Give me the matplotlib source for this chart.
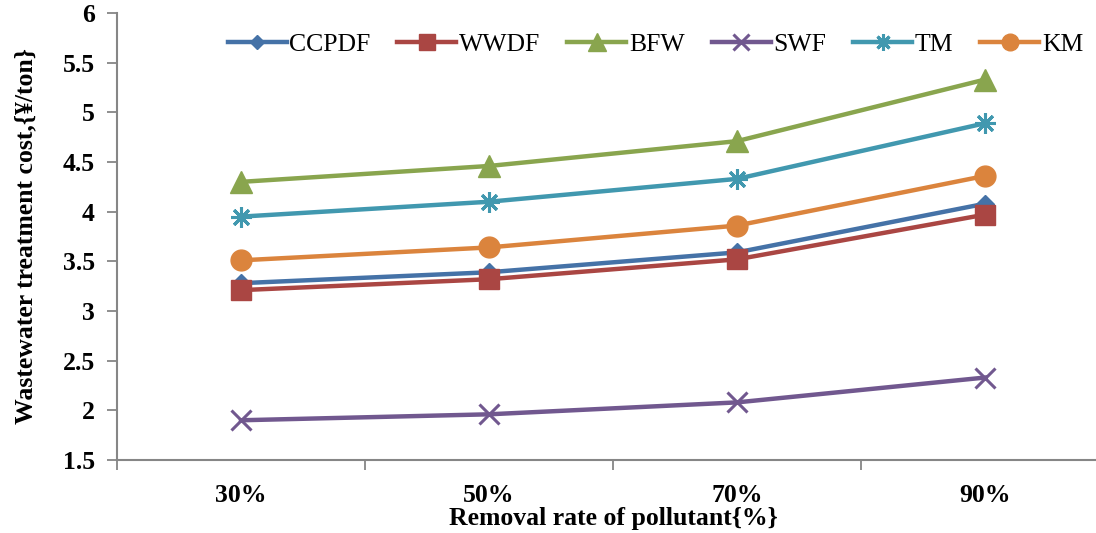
import matplotlib
matplotlib.use("Agg")
import matplotlib.pyplot as plt

categories = ["30%", "50%", "70%", "90%"]
series_names = ["CCPDF", "WWDF", "BFW", "SWF", "TM", "KM"]
ccpdf = [3.28, 3.39, 3.59, 4.08]
wwdf = [3.21, 3.32, 3.52, 3.97]
bfw = [4.30, 4.46, 4.71, 5.33]
swf = [1.90, 1.96, 2.08, 2.33]
tm = [3.95, 4.10, 4.33, 4.89]
km = [3.51, 3.64, 3.86, 4.36]
y_ticks = [1.5, 2, 2.5, 3, 3.5, 4, 4.5, 5, 5.5, 6]
y_tick_labels = ["1.5", "2", "2.5", "3", "3.5", "4", "4.5", "5", "5.5", "6"]

colors = ["#4572A7", "#AA4643", "#89A54E", "#71588F", "#4198AF", "#DB843D"]
markers = ["D", "s", "^", "x", (8, 2, 0), "o"]
msizes = [9, 15, 16, 14, 15, 15]
values = [ccpdf, wwdf, bfw, swf, tm, km]

plt.rcParams["font.family"] = ["Liberation Serif", "DejaVu Serif"]

fig = plt.figure(figsize=(10.96, 5.33), dpi=100)
ax = fig.add_axes([117 / 1096, 73 / 533, (1109 - 117) / 1096, 447 / 533])

x = list(range(len(categories)))
handles = []
for name, vals, c, m, ms in zip(series_names, values, colors, markers, msizes):
    mew = 2.2 if m in ("x",) or isinstance(m, tuple) else 1
    h, = ax.plot(x, vals, color=c, lw=3.2, marker=m, markersize=ms,
                 markeredgecolor=c, markerfacecolor=c, markeredgewidth=mew,
                 label=name, clip_on=False)
    handles.append(h)

ax.set_xlim(-0.5, 3.5)
ax.set_ylim(1.5, 6)
ax.set_yticks(y_ticks)
ax.set_yticklabels(y_tick_labels, fontsize=18.5, fontweight="bold")
ax.set_xticks(x)
ax.set_xticklabels(categories, fontsize=18.5, fontweight="bold")
ax.set_xticks([-0.5, 0.5, 1.5, 2.5], minor=True)
ax.tick_params(axis="x", which="major", length=0, pad=17)
ax.tick_params(axis="x", which="minor", length=7, color="#868686", width=1.3)
ax.tick_params(axis="y", which="major", length=7, color="#868686", width=1.3, pad=9)

for s in ["top", "right"]:
    ax.spines[s].set_visible(False)
for s in ["left", "bottom"]:
    ax.spines[s].set_color("#868686")
    ax.spines[s].set_linewidth(1.5)

ax.set_xlabel("Removal rate of pollutant{%}", fontsize=18.5, fontweight="bold", labelpad=0)
ax.set_ylabel("Wastewater treatment cost,{¥/ton}", fontsize=18.5, fontweight="bold", labelpad=18)

leg = fig.legend(handles=handles, loc="center right", bbox_to_anchor=(1.0, 1 - 45 / 533),
                 ncol=6, frameon=False, fontsize=18.5, handlelength=2.3,
                 handletextpad=0.1, columnspacing=1.05, markerscale=0.8, borderaxespad=0.1)

fig.savefig("out.png", dpi=100)
